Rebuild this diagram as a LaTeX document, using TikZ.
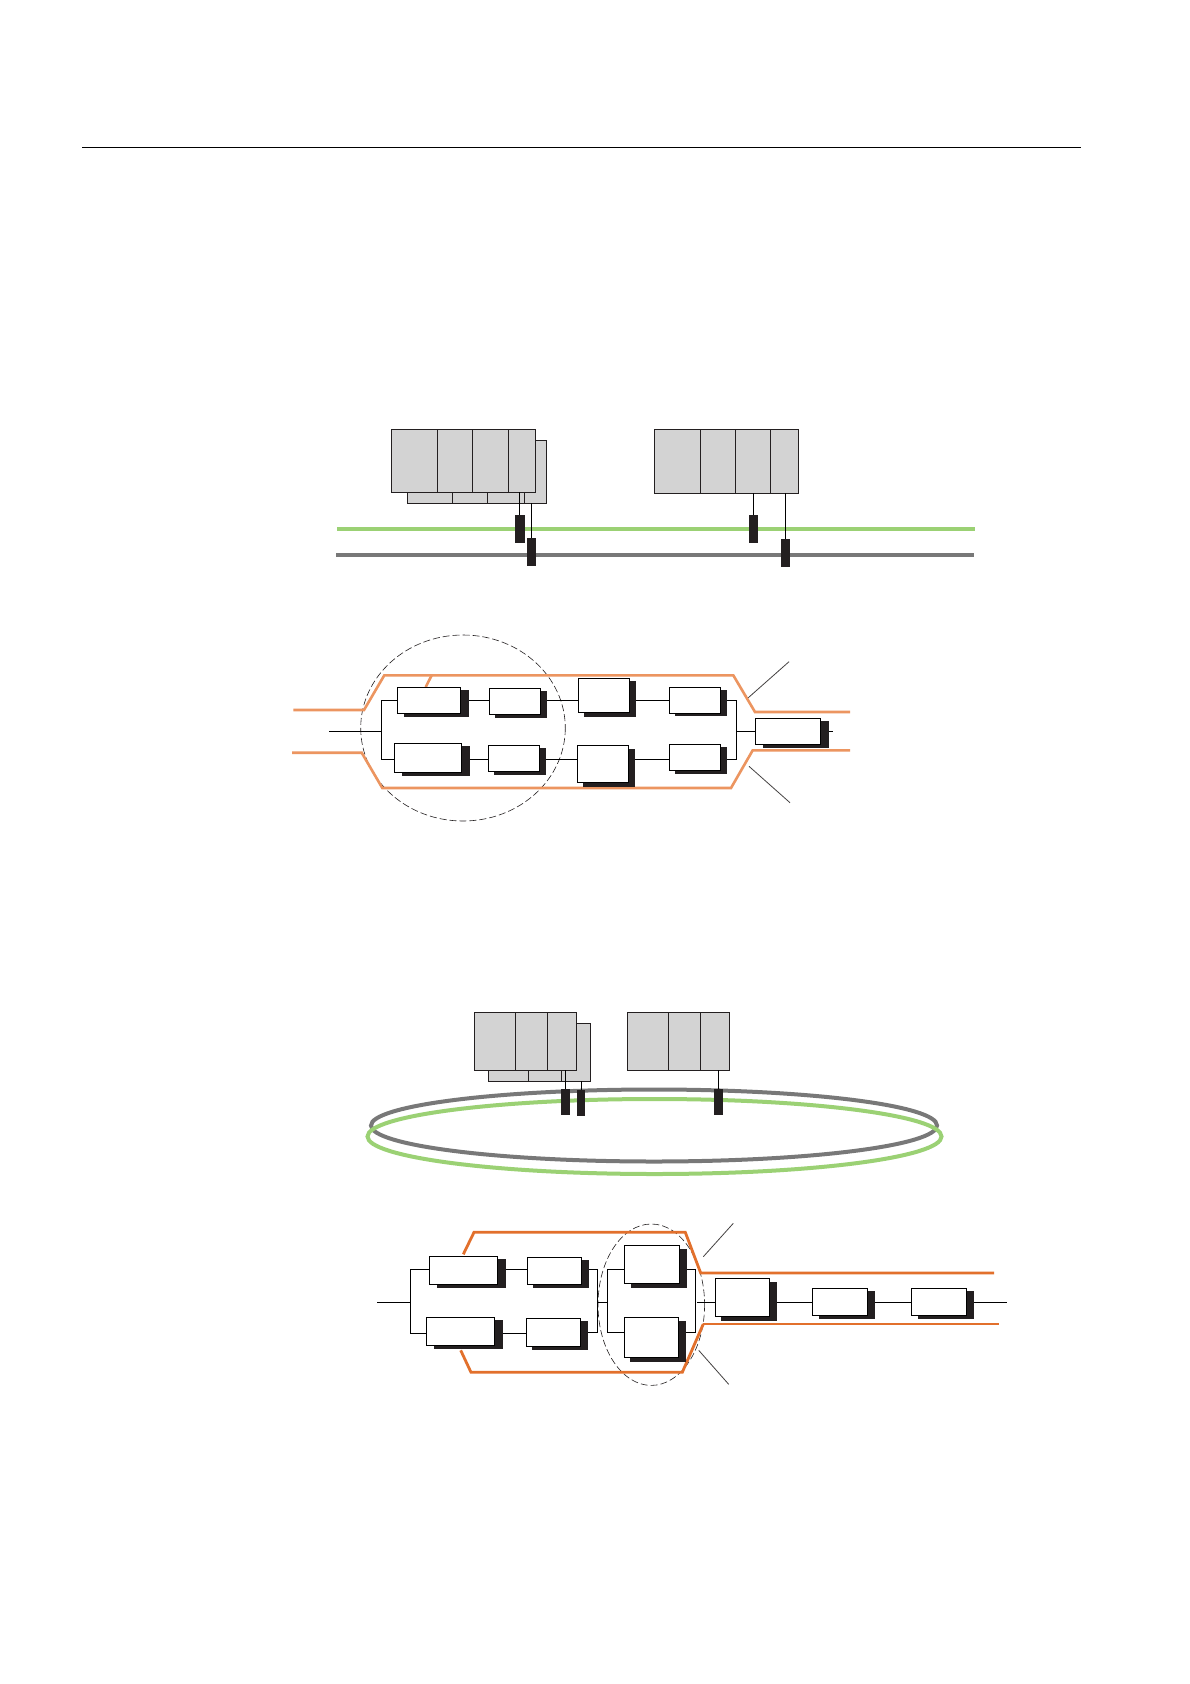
\documentclass[tikz,border=0pt]{standalone}
\definecolor{rackgray}{HTML}{D3D3D3}
\definecolor{busgreen}{HTML}{9BD174}
\definecolor{busgray}{HTML}{787878}
\definecolor{oranA}{HTML}{EC9560}
\definecolor{oranB}{HTML}{E2702C}
\definecolor{inkb}{HTML}{231F20}
\tikzset{
  rect/.style={draw=none,rectangle,inner sep=0pt,outer sep=0pt},
  wbox/.style={rect,draw=black,fill=white,line width=1pt},
  shadowbox/.style={rect,fill=inkb},
  rackbox/.style={rect,draw=inkb,fill=rackgray,line width=1pt},
  tapbox/.style={rect,fill=inkb},
  wire/.style={draw=black,line width=0.9pt},
  divider/.style={draw=inkb,line width=1pt},
  callout/.style={draw=inkb!85,line width=0.8pt},
  dashring/.style={draw=inkb,line width=0.6pt,dash pattern=on 7pt off 3pt},
  busA/.style={draw=busgreen,line width=4pt},
  busB/.style={draw=busgray,line width=4pt},
  orA/.style={draw=oranA,line width=2.6pt,line join=miter},
  orB/.style={draw=oranB,line width=2.8pt,line join=miter},
}
\newcommand{\placebox}[6]{%
  \pgfmathsetmacro\bxw{#5-#3}\pgfmathsetmacro\bxh{#6-#4}%
  \pgfmathsetmacro\bxx{(#3+#5)/2}\pgfmathsetmacro\bxy{(#4+#6)/2}%
  \node[#1,minimum width=\bxw pt,minimum height=\bxh pt] (#2) at (\bxx,\bxy) {};}
% name, box x1 y1 x2 y2, shadow x1 y1 x2 y2
\newcommand{\shbox}[9]{%
  \placebox{shadowbox}{#1s}{#6}{#7}{#8}{#9}%
  \placebox{wbox}{#1}{#2}{#3}{#4}{#5}}
\begin{document}
\begin{tikzpicture}[x=1pt,y=-1pt]
\useasboundingbox (0,0) rectangle (1190,1684);
\fill[white] (0,0) rectangle (1190,1684);
% header rule
\coordinate (ruleL) at (82,147);
\coordinate (ruleR) at (1081,147);
\draw[draw=black,line width=1pt] (ruleL) -- (ruleR);

%%% Figure 1: linear buses
\coordinate (gL) at (337,529); \coordinate (gR) at (975,529);
\coordinate (kL) at (336,555); \coordinate (kR) at (974,555);
\draw[busA] (gL) -- (gR);
\draw[busB] (kL) -- (kR);
\placebox{rackbox}{r1b}{407.3}{440.3}{546.7}{503.3}
\foreach \x in {452.3,487.3,524.3} \draw[divider] (\x,492) -- (\x,503.3);
\placebox{rackbox}{r1}{391.3}{429.3}{535.7}{492.3}
\foreach \x in {437.3,472.3,508.3} \draw[divider] (\x,429.3) -- (\x,492.3);
\placebox{rackbox}{r2}{654.3}{429.3}{798.3}{493.3}
\foreach \x in {700.3,735.3,770.3} \draw[divider] (\x,429.3) -- (\x,493.3);
\placebox{tapbox}{t1}{515}{515}{525}{542.7}
\placebox{tapbox}{t2}{527}{538}{536}{565.7}
\placebox{tapbox}{t3}{749}{515}{758}{542.7}
\placebox{tapbox}{t4}{781}{539}{790}{566.7}
\draw[wire] (519.3,492.3) -- (519.3,515);
\draw[wire] (t2.north) -- (t2.north |- r1b.south);
\draw[wire] (t3.north) -- (t3.north |- r2.south);
\draw[wire] (t4.north) -- (t4.north |- r2.south);

%%% Figure 1: block diagram
\draw[dashring] (463,728) ellipse [x radius=102.3,y radius=93];
\draw[orA] (293.3,710) -- (364,710) -- (384.3,675.3) -- (733.3,675.3) -- (755,712) -- (850,712);
\draw[orA] (292,752.7) -- (361.7,752.7) -- (382.3,788) -- (731,788) -- (752.7,750.3) -- (850,750.3);
\draw[orA] (431.7,675.3) -- (425.7,687);
\shbox{pa}{397.3}{687.3}{460.7}{713.3}{404}{690}{469}{716.7}
\shbox{pb}{489.3}{688.3}{540.3}{714.3}{495}{691}{547}{717.7}
\shbox{pc}{578.3}{678.3}{629.3}{712.3}{584}{681}{636}{716.7}
\shbox{pd}{669.3}{687.3}{720.7}{713.3}{675}{690}{727}{716}
\shbox{qa}{394.3}{743.3}{461.7}{772.3}{402}{746}{469.7}{775.7}
\shbox{qb}{488.3}{745.3}{539.3}{771.3}{494}{748}{545.7}{774.7}
\shbox{qc}{577.3}{745.3}{628.7}{782.7}{583}{749}{635}{786.7}
\shbox{qd}{669.3}{744.3}{720.7}{770.3}{675}{747}{727}{774}
\shbox{ee}{755.3}{718.3}{820.7}{744.3}{763}{721}{829}{747.7}
\coordinate (rowP) at (381.3,700.3);
\coordinate (rowQ) at (381.3,759.3);
\coordinate (inA) at (329,731.3);
\coordinate (busAin) at (381.3,731.3);
\coordinate (busAout) at (736.3,731.3);
\coordinate (outA) at (833,731.3);
\draw[wire] (inA) -- (busAin);
\draw[wire] (pa.west |- rowP) -- (rowP) -- (rowQ) -- (qa.west |- rowQ);
\draw[wire] (pas.east |- rowP) -- (pb.west |- rowP);
\draw[wire] (pbs.east |- rowP) -- (pc.west |- rowP);
\draw[wire] (pcs.east |- rowP) -- (pd.west |- rowP);
\draw[wire] (qas.east |- rowQ) -- (qb.west |- rowQ);
\draw[wire] (qbs.east |- rowQ) -- (qc.west |- rowQ);
\draw[wire] (qcs.east |- rowQ) -- (qd.west |- rowQ);
\draw[wire] (pds.east |- rowP) -- (busAout |- rowP) -- (busAout |- rowQ) -- (qds.east |- rowQ);
\draw[wire] (busAout) -- (ee.west |- busAout);
\draw[wire] (ees.east |- outA) -- (outA);
\coordinate (c1a) at (789,661.7); \coordinate (c1b) at (748.3,697.7);
\coordinate (c2a) at (790,802.7); \coordinate (c2b) at (749,766.3);
\draw[callout] (c1a) -- (c1b);
\draw[callout] (c2a) -- (c2b);

%%% Figure 2: ring buses
\draw[busgray,line width=4pt] (654,1125.5) ellipse [x radius=283,y radius=36];
\draw[busgreen,line width=4pt] (654.5,1136.5) ellipse [x radius=287,y radius=37.5];
\placebox{rackbox}{r3b}{488.3}{1023.3}{590.7}{1081.3}
\foreach \x in {528.3,561.3} \draw[divider] (\x,1070) -- (\x,1081.3);
\placebox{rackbox}{r3}{474.3}{1012.7}{576.7}{1070.3}
\foreach \x in {515.3,547.3} \draw[divider] (\x,1012.7) -- (\x,1070.3);
\placebox{rackbox}{r4}{627.3}{1012.7}{729.7}{1070.3}
\foreach \x in {668.3,700.3} \draw[divider] (\x,1012.7) -- (\x,1070.3);
\placebox{tapbox}{t5}{561}{1089}{570}{1114.7}
\placebox{tapbox}{t6}{577}{1089.7}{585}{1115.7}
\placebox{tapbox}{t7}{714}{1088.7}{722.7}{1114.7}
\draw[wire] (t5.north) -- (t5.north |- r3.south);
\draw[wire] (t6.north) -- (t6.north |- r3b.south);
\draw[wire] (t7.north) -- (t7.north |- r4.south);

%%% Figure 2: block diagram
\draw[dashring] (651.3,1304.7) ellipse [x radius=53.3,y radius=80.7];
\draw[orB] (463.3,1254.3) -- (474,1232.3) -- (685.3,1232.3) -- (700.7,1273) -- (994,1273);
\draw[orB] (460.7,1350.3) -- (471,1372.3) -- (682.3,1372.3) -- (703.3,1324);
\draw[oranB,line width=2.2pt] (703.3,1324) -- (998.7,1324);
\shbox{ua}{429.3}{1256.3}{497.7}{1284.3}{437}{1259}{506}{1287.7}
\shbox{ub}{527.3}{1257.3}{581.7}{1284.3}{533}{1260}{589}{1287.7}
\shbox{uc}{624.3}{1245.3}{679.7}{1283.3}{631}{1249}{687}{1287.7}
\shbox{va}{426.3}{1317.3}{494.7}{1345.3}{434}{1320}{503}{1348.7}
\shbox{vb}{526.3}{1318.3}{580.7}{1346.3}{532}{1321}{588}{1349.7}
\shbox{vc}{624.3}{1317.3}{678.7}{1357.3}{630}{1321}{686}{1361.7}
\shbox{wa}{715.3}{1278.3}{769.7}{1316.3}{721}{1282}{777}{1320.7}
\shbox{wb}{812.3}{1288.3}{867.7}{1315.3}{819}{1291}{875}{1318.7}
\shbox{wc}{911.3}{1288.3}{966.7}{1315.3}{918}{1291}{974}{1318.7}
\coordinate (rowU) at (410.3,1269.3);
\coordinate (rowV) at (410.3,1333.3);
\coordinate (rowVb) at (597.7,1332.3);
\coordinate (inB) at (377,1302.3);
\coordinate (hubL) at (410.3,1302.3);
\coordinate (hubM) at (597.7,1302.3);
\coordinate (hubN) at (607.3,1302.3);
\coordinate (hubR) at (695.7,1302.3);
\coordinate (hubS) at (697,1302.3);
\coordinate (outB) at (1007,1302.3);
\draw[wire] (inB) -- (hubL);
\draw[wire] (ua.west |- rowU) -- (rowU) -- (rowV) -- (va.west |- rowV);
\draw[wire] (uas.east |- rowU) -- (ub.west |- rowU);
\draw[wire] (vas.east |- rowV) -- (vb.west |- rowV);
\draw[wire] (ubs.east |- rowU) -- (hubM |- rowU) -- (rowVb) -- (vbs.east |- rowVb);
\draw[wire] (hubM) -- (hubN);
\draw[wire] (uc.west |- rowU) -- (hubN |- rowU) -- (hubN |- rowVb) -- (vc.west |- rowVb);
\draw[wire] (ucs.east |- rowU) -- (hubR |- rowU) -- (hubR |- rowVb) -- (vcs.east |- rowVb);
\draw[wire] (hubS) -- (wa.west |- hubS);
\draw[wire] (was.east |- hubS) -- (wb.west |- hubS);
\draw[wire] (wbs.east |- hubS) -- (wc.west |- hubS);
\draw[wire] (wcs.east |- outB) -- (outB);
\coordinate (c3a) at (733.3,1223.3); \coordinate (c3b) at (703.3,1256.7);
\coordinate (c4a) at (728.7,1384.3); \coordinate (c4b) at (698.7,1350.3);
\draw[callout] (c3a) -- (c3b);
\draw[callout] (c4a) -- (c4b);
\end{tikzpicture}
\end{document}
